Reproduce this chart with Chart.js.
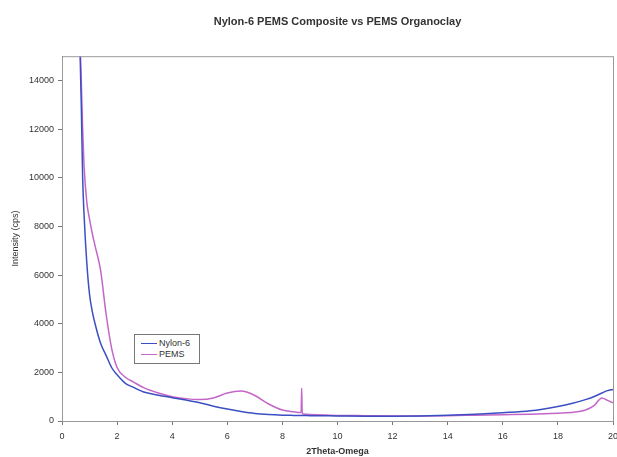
<!DOCTYPE html>
<html>
<head>
<meta charset="utf-8">
<script src="https://cdn.jsdelivr.net/npm/chart.js@4.4.0/dist/chart.umd.min.js"></script>
<style>
  html, body { margin: 0; padding: 0; background: #fff; }
  #wrap { position: relative; width: 617px; height: 457px; }
  #legend {
    position: absolute; left: 134px; top: 334px; width: 64px; height: 28px;
    border: 1px solid #777; background: #fff;
    font: 9px "Liberation Sans", Arial, sans-serif; color: #333;
  }
  #legend div { position: absolute; left: 6px; height: 10px; line-height: 10px; }
  #legend span { display: inline-block; width: 16px; height: 0; border-top: 1.5px solid; vertical-align: middle; margin-right: 2px; }
</style>
</head>
<body>
<div id="wrap">
  <canvas id="myChart" width="617" height="457"></canvas>
  <div id="legend"></div>
</div>
<script>
'use strict';

// data
const seriesNames = ['Nylon-6', 'PEMS'];
const seriesColors = ['#3b4fc2', '#c466c8'];

// 2Theta positions (shared by both curves)
const twoTheta = [0.6, 0.65, 0.7, 0.75, 0.8, 0.9, 1.0, 1.1, 1.2, 1.4, 1.6, 1.8, 2.0, 2.3, 2.6, 3, 3.5, 4, 4.5, 5, 5.5, 6, 6.5, 7, 7.5, 8, 8.4, 8.68, 8.7, 8.72, 9, 10, 11, 12, 13, 14, 15, 16, 17, 18, 18.5, 19, 19.3, 19.6, 19.8, 20];

// intensity (cps)
const nylon = [20000, 15500, 13000, 10000, 8500, 6500, 5200, 4500, 4000, 3200, 2700, 2200, 1900, 1550, 1380, 1180, 1060, 960, 860, 750, 610, 490, 390, 310, 265, 240, 230, 225, 225, 225, 220, 210, 200, 200, 210, 240, 280, 340, 420, 600, 720, 880, 1000, 1150, 1250, 1300];
const pems = [20000, 16000, 14000, 12000, 10500, 9000, 8300, 7700, 7200, 6200, 4400, 3000, 2200, 1800, 1600, 1350, 1150, 1000, 920, 880, 950, 1150, 1230, 1050, 700, 450, 380, 350, 1350, 300, 270, 230, 220, 210, 210, 220, 240, 260, 280, 320, 350, 450, 620, 950, 850, 750];

const xTicks = [0, 2, 4, 6, 8, 10, 12, 14, 16, 18, 20];
const yTicks = [0, 2000, 4000, 6000, 8000, 10000, 12000, 14000];

function toPoints(values) {
    return twoTheta.map((x, i) => ({ x: x, y: values[i] }));
}

// grey frame round the plot area
const frame = {
    id: 'frame',
    afterDatasetsDraw(chart) {
        const a = chart.chartArea;
        const ctx = chart.ctx;
        ctx.save();
        ctx.strokeStyle = '#999';
        ctx.lineWidth = 1;
        ctx.strokeRect(a.left + 0.5, a.top + 0.5, a.right - a.left, a.bottom - a.top);
        ctx.restore();
    }
};

const tickFont = { family: '"Liberation Sans", Arial, sans-serif', size: 9 };

let config = {
    type: 'line',
    data: {
        datasets: [
            { label: seriesNames[0], data: toPoints(nylon), borderColor: seriesColors[0], borderWidth: 1.5, pointRadius: 0, cubicInterpolationMode: 'monotone' },
            { label: seriesNames[1], data: toPoints(pems), borderColor: seriesColors[1], borderWidth: 1.5, pointRadius: 0, cubicInterpolationMode: 'monotone' }
        ]
    },
    options: {
        responsive: false,
        animation: false,
        layout: { padding: { left: 0, right: 4, top: 0, bottom: 0 } },
        plugins: {
            legend: { display: false },
            tooltip: { enabled: false },
            title: {
                display: true,
                fullSize: false,
                text: 'Nylon-6 PEMS Composite vs PEMS Organoclay',
                color: '#333',
                font: { family: '"Liberation Sans", Arial, sans-serif', size: 11, weight: 'bold' },
                padding: { top: 15, bottom: 28 }
            }
        },
        scales: {
            x: {
                type: 'linear',
                min: 0,
                max: 20,
                afterBuildTicks: (s) => { s.ticks = xTicks.map(v => ({ value: v })); },
                afterFit: (s) => { s.height = 36; s.paddingRight = 0; s.paddingLeft = 0; },
                ticks: { color: '#333', font: tickFont, padding: 6, maxRotation: 0 },
                grid: { drawOnChartArea: false, drawTicks: true, tickLength: 4, color: '#777' },
                border: { color: '#777' },
                title: { display: true, text: '2Theta-Omega', color: '#333', font: { family: '"Liberation Sans", Arial, sans-serif', size: 9, weight: 'bold' }, padding: { top: 0, bottom: 0 } }
            },
            y: {
                min: 0,
                max: 15000,
                afterBuildTicks: (s) => { s.ticks = yTicks.map(v => ({ value: v })); },
                afterFit: (s) => { s.width = 62; },
                ticks: { color: '#333', font: tickFont, padding: 4, callback: (v) => String(v) },
                grid: { drawOnChartArea: false, drawTicks: true, tickLength: 4, color: '#777' },
                border: { color: '#777' },
                title: { display: true, text: 'Intensity (cps)', color: '#333', font: { family: '"Liberation Sans", Arial, sans-serif', size: 9 }, padding: { top: 10, bottom: 0 } }
            }
        }
    },
    plugins: [frame]
};

const ctx = document.getElementById('myChart').getContext('2d');
const myChart = new Chart(ctx, config);

// legend box inside the plot
let legend = document.getElementById('legend');
seriesNames.forEach((name, i) => {
    let row = document.createElement('div');
    row.style.top = (3 + i * 11) + 'px';
    row.innerHTML = '<span style="border-color:' + seriesColors[i] + '"></span>' + name;
    legend.appendChild(row);
});
</script>
</body>
</html>
